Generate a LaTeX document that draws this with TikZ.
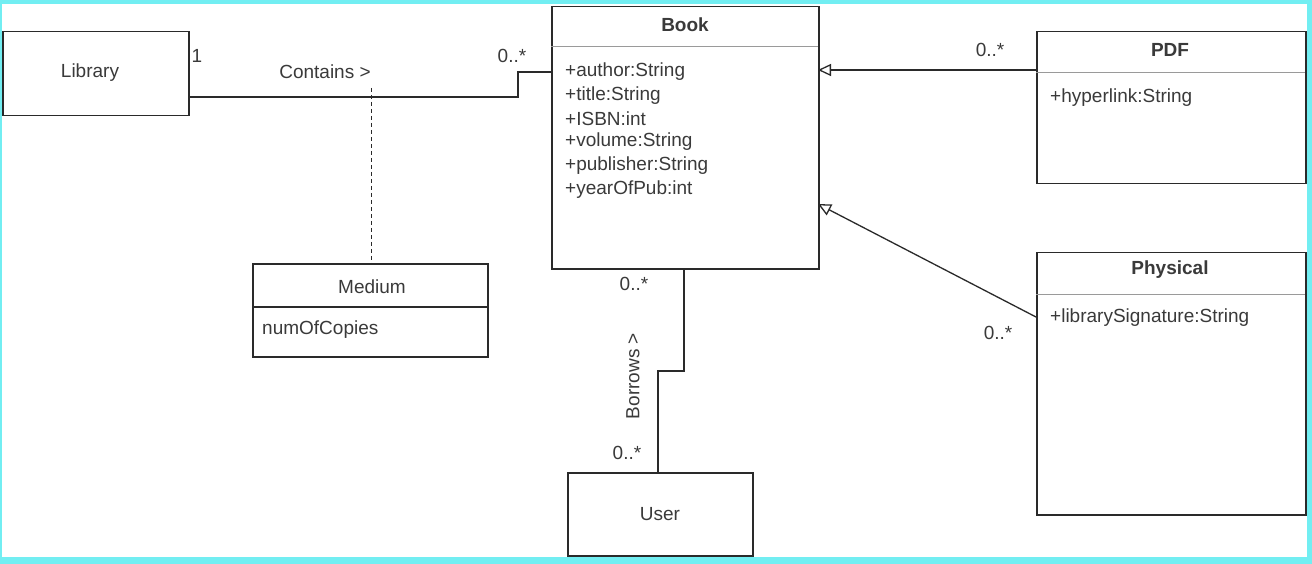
\documentclass[tikz,border=0pt]{standalone}
\usepackage{fontspec}
\setmainfont{Liberation Sans}
\usetikzlibrary{arrows.meta}
\definecolor{frame}{HTML}{72EEF2}
\definecolor{txt}{HTML}{3A3A3A}
\definecolor{ln}{HTML}{2A2A2A}
\definecolor{divc}{HTML}{9A9A9A}
\tikzset{
  cls/.style={draw=ln, line width=1.5pt, fill=white, anchor=north west, inner sep=0pt, rectangle},
  lbl/.style={text=txt, font=\fontsize{19}{22}\selectfont, inner sep=0pt},
  ttl/.style={text=txt, font=\bfseries\fontsize{19}{22}\selectfont, inner sep=0pt},
  attr/.style={text=txt, font=\fontsize{19}{22}\selectfont, inner sep=0pt, anchor=west},
  conn/.style={draw=ln, line width=1.3pt},
  divline/.style={draw=divc, line width=1pt},
  gen/.style={conn, -{Triangle[open, length=13pt, width=12pt]}}
}
\begin{document}
\begin{tikzpicture}[x=1pt,y=-1pt]
\useasboundingbox (0,0) rectangle (1312,564);
\fill[frame] (0,0) rectangle (1312,564);
\fill[white] (2,4) rectangle (1307,557);

% classes
\node[cls, minimum width=186pt, minimum height=84pt] (library) at (2,31) {};
\node[lbl] at (90,73) {Library};

\node[cls, minimum width=267pt, minimum height=262pt] (book) at (551,6) {};
\node[ttl] at (685,25) {Book};
\draw[divline] (551,47) -- (818,47);
\node[attr] (a1) at (565,72) {+author:String};
\node[attr] (a2) at (565,96) {+title:String};
\node[attr] (a3) at (565,119) {+ISBN:int};
\node[attr] (a4) at (565,142) {+volume:String};
\node[attr] (a5) at (565,166) {+publisher:String};
\node[attr] (a6) at (565,190) {+yearOfPub:int};

\node[cls, minimum width=235pt, minimum height=93pt] (medium) at (252,263) {};
\node[lbl] at (372,287) {Medium};
\draw[conn] (252,307) -- (487,307);
\node[attr] (m1) at (262,330) {numOfCopies};

\node[cls, minimum width=269pt, minimum height=152pt] (pdf) at (1036,31) {};
\node[ttl] at (1170,50) {PDF};
\draw[divline] (1036,73) -- (1305,73);
\node[attr] (p1) at (1050,98) {+hyperlink:String};

\node[cls, minimum width=269pt, minimum height=262pt] (phys) at (1036,252) {};
\node[ttl] at (1170,270) {Physical};
\draw[divline] (1036,294) -- (1305,294);
\node[attr] (q1) at (1050,318) {+librarySignature:String};

\node[cls, minimum width=185pt, minimum height=83pt] (user) at (567,472) {};
\node[lbl] at (660,514) {User};

% Contains association
\coordinate (c0) at (188,97);
\coordinate (c1) at (518,97);
\coordinate (c2) at (518,72);
\coordinate (c3) at (551,72);
\draw[conn] (c0) -- (c1) -- (c2) -- (c3);
\node[lbl] at (197,56) {1};
\node[lbl] at (325,72) {Contains >};
\node[lbl] at (512,56) {0..*};

% association class dashed link
\coordinate (d0) at (371,88);
\draw[conn, line width=1pt, dashed, dash pattern=on 4pt off 3pt] (d0) -- (medium.north -| d0);

% generalizations
\coordinate (g1s) at (1036,70);
\coordinate (g1e) at (818,70);
\draw[gen] (g1s) -- (g1e);
\node[lbl] at (990,50) {0..*};
\coordinate (g2s) at (1036,317);
\coordinate (g2e) at (818,204);
\draw[gen] (g2s) -- (g2e);
\node[lbl] at (998,333) {0..*};

% Borrows association
\coordinate (b0) at (684,268);
\coordinate (b1) at (684,371);
\coordinate (b2) at (658,371);
\coordinate (b3) at (658,472);
\draw[conn] (b0) -- (b1) -- (b2) -- (b3);
\node[lbl] at (634,284) {0..*};
\node[lbl] at (627,453) {0..*};
\node[lbl, rotate=90] at (633,376) {Borrows >};
\end{tikzpicture}
\end{document}
